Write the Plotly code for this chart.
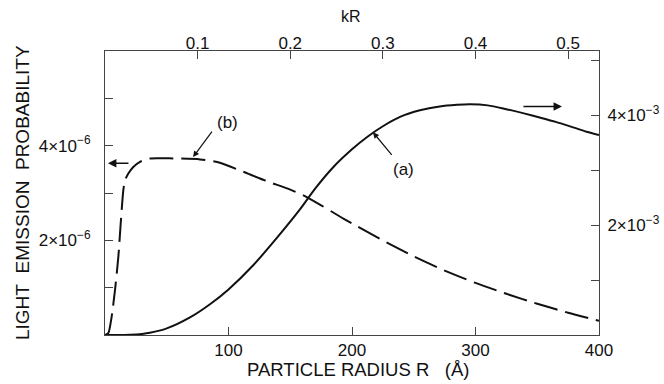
import plotly.graph_objects as go

# ---------------- data ----------------
# curve (b): dashed, left axis (light emission probability, units 1e-6)
R_b = [0, 2.7, 5.4, 8.1, 10.8, 12.7, 14.8, 16.2, 18.9, 22.9, 28.3, 36.4, 55, 77, 93,
       110, 130, 150, 163, 175, 193, 225, 250, 275, 300, 325, 350, 375, 400]
P_b = [0, 0.04, 0.39, 0.95, 1.65, 2.35, 3.05, 3.27, 3.41, 3.55, 3.66, 3.73, 3.73, 3.71, 3.64,
       3.47, 3.26, 3.07, 2.92, 2.74, 2.46, 2.00, 1.66, 1.36, 1.10, 0.87, 0.66, 0.47, 0.30]

# curve (a): solid, right axis (units 1e-3)
R_a = [0, 10, 20, 30, 36.4, 50, 68.8, 85, 100, 120, 140, 158, 170, 184.6, 200, 212, 225,
       238.9, 255, 271, 285, 295.5, 310, 325, 340, 352, 365, 379, 390, 400]
P_a = [0, 0, 0.005, 0.02, 0.04, 0.12, 0.32, 0.56, 0.83, 1.27, 1.79, 2.29, 2.66, 3.05, 3.38,
       3.60, 3.80, 3.97, 4.09, 4.16, 4.19, 4.20, 4.18, 4.11, 4.03, 3.96, 3.88, 3.78, 3.70, 3.64]

x_ticks = [100, 200, 300, 400]
kR_ticks = [0.1, 0.2, 0.3, 0.4, 0.5]
kR_per_R = 1 / 750.0
R_max = 400
left_ticks = [2, 4]
left_labels = ["2\u00d710<sup>\u22126</sup>", "4\u00d710<sup>\u22126</sup>"]
right_ticks = [2, 4]
right_labels = ["2\u00d710<sup>\u22123</sup>", "4\u00d710<sup>\u22123</sup>"]
minor_step = 1
left_max = 6.0
right_max = 5.17

FONT = "Liberation Sans, Arial, Helvetica, sans-serif"
INK = "#111111"
AX = "#444444"

fig = go.Figure()
fig.add_trace(go.Scatter(
    x=R_b, y=[v * 1e-6 for v in P_b], mode="lines", xaxis="x", yaxis="y",
    line=dict(color=INK, width=2, dash="24px,8px", shape="spline", smoothing=0.6),
    hoverinfo="skip", showlegend=False))
fig.add_trace(go.Scatter(
    x=R_a, y=[v * 1e-3 for v in P_a], mode="lines", xaxis="x", yaxis="y2",
    line=dict(color=INK, width=2, shape="spline", smoothing=0.8),
    hoverinfo="skip", showlegend=False))
# helper (invisible) trace so the top kR axis is drawn
fig.add_trace(go.Scatter(
    x=[0, R_max * kR_per_R], y=[None, None], mode="lines", xaxis="x2", yaxis="y",
    hoverinfo="skip", showlegend=False))

tickfont = dict(family=FONT, size=17, color=INK)
common = dict(showline=True, linecolor=AX, linewidth=1, ticks="inside", ticklen=8,
              tickcolor=AX, tickwidth=1, showgrid=False, zeroline=False, tickfont=tickfont,
              automargin=False)

fig.update_layout(
    width=664, height=384,
    margin=dict(l=105, r=65, t=51, b=49),
    paper_bgcolor="white", plot_bgcolor="white",
    font=dict(family=FONT, color=INK),
    hovermode=False,
    xaxis=dict(range=[0, R_max], tickvals=x_ticks, ticktext=[str(t) for t in x_ticks], **common),
    xaxis2=dict(range=[0, R_max * kR_per_R], overlaying="x", side="top", anchor="y",
                tickvals=kR_ticks, ticktext=[str(t) for t in kR_ticks],
                ticklabelstandoff=-6, **common),
    yaxis=dict(range=[0, left_max * 1e-6], tickvals=[v * 1e-6 for v in left_ticks],
               ticktext=left_labels, ticklabelstandoff=10,
               minor=dict(dtick=minor_step * 1e-6, tick0=0, ticks="inside", ticklen=8,
                          tickcolor=AX, showgrid=False),
               **common),
    yaxis2=dict(range=[0, right_max * 1e-3], overlaying="y", side="right", anchor="x",
                tickvals=[v * 1e-3 for v in right_ticks], ticktext=right_labels,
                ticklabelstandoff=4,
                minor=dict(dtick=minor_step * 1e-3, tick0=0, ticks="inside", ticklen=8,
                           tickcolor=AX, showgrid=False),
                **common),
)

ann = []
# axis titles
ann.append(dict(text="LIGHT\u00a0\u00a0EMISSION\u00a0\u00a0PROBABILITY", xref="paper", yref="paper",
                x=-0.168, y=0.5, xanchor="center", yanchor="middle", textangle=-90,
                showarrow=False, font=dict(family=FONT, size=19, color=INK)))
ann.append(dict(text="PARTICLE RADIUS R\u00a0\u00a0\u00a0(\u00c5)", xref="paper", yref="paper",
                x=0.513, y=-0.12, xanchor="center", yanchor="middle", showarrow=False,
                font=dict(family=FONT, size=18.5, color=INK)))
ann.append(dict(text="kR", xref="paper", yref="paper", x=0.497, y=1.123, xanchor="center",
                yanchor="middle", showarrow=False, font=dict(family=FONT, size=16, color=INK)))
# curve labels and arrows
ann.append(dict(text="", x=71.3, y=3.76e-6, xref="x", yref="y", ax=20, ay=-27,
                showarrow=True, arrowhead=2, arrowsize=1, arrowwidth=1.2, arrowcolor=INK))
ann.append(dict(text="(b)", x=98.8, y=4.49e-6, xref="x", yref="y", showarrow=False,
                font=dict(family=FONT, size=17, color=INK)))
ann.append(dict(text="", x=217, y=3.69e-3, xref="x", yref="y2", ax=20, ay=24,
                showarrow=True, arrowhead=2, arrowsize=1, arrowwidth=1.2, arrowcolor=INK))
ann.append(dict(text="(a)", x=241.3, y=3.02e-3, xref="x", yref="y2", showarrow=False,
                font=dict(family=FONT, size=17, color=INK)))
ann.append(dict(text="", x=370, y=4.16e-3, xref="x", yref="y2", ax=-40, ay=0,
                showarrow=True, arrowhead=2, arrowsize=1.2, arrowwidth=1.4, arrowcolor=INK))
ann.append(dict(text="", x=2.4, y=3.63e-6, xref="x", yref="y", ax=22, ay=0,
                showarrow=True, arrowhead=2, arrowsize=1.2, arrowwidth=1.4, arrowcolor=INK))
fig.update_layout(annotations=ann)

# remove the default 8px page margin so the figure fills the 664x384 window exactly
fig.write_html("out.html", config={"displayModeBar": False, "staticPlot": True},
               post_script="document.body.style.margin='0';document.body.style.overflow='hidden';")
